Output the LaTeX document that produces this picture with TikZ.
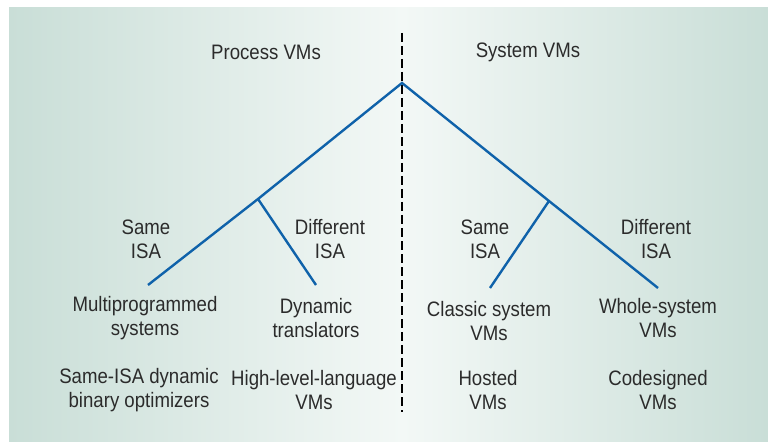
\documentclass[tikz,border=0pt]{standalone}
\usepackage{fontspec}
\setmainfont{Liberation Sans}[FakeStretch=0.89]
\definecolor{edgeteal}{HTML}{C9DED7}
\definecolor{midwhite}{HTML}{F3F8F6}
\definecolor{branchblue}{HTML}{0F62AA}
\definecolor{txtgray}{HTML}{2B2B2B}
\tikzset{
  lbl/.style={font=\fontsize{21}{24}\selectfont, text=txtgray, align=center, inner sep=0pt},
  branch/.style={draw=branchblue, line width=2.4pt},
  divider/.style={draw=black, line width=1.1pt, dash pattern=on 9bp off 4bp}
}
\begin{document}
\begin{tikzpicture}[x=1bp,y=-1bp]
\useasboundingbox (0,0) rectangle (768,447);
\fill[white] (0,0) rectangle (768,447);
\shade[left color=edgeteal, right color=midwhite] (9,8) rectangle (402,441);
\shade[left color=midwhite, right color=edgeteal] (402,8) rectangle (768,441);

% divider
\coordinate (dtop) at (402,33);
\coordinate (dbot) at (402,412);
\draw[divider] (dtop) -- (dbot);

% tree
\coordinate (root) at (402,83);
\coordinate (jl) at (258,199);
\coordinate (jr) at (549,201);
\coordinate (ll) at (148,285);
\coordinate (lr) at (316,285);
\coordinate (rl) at (490,288);
\coordinate (rr) at (658,288);
\draw[branch] (ll) -- (jl) -- (root) -- (jr) -- (rr);
\draw[branch] (jl) -- (lr);
\draw[branch] (jr) -- (rl);

% labels
\node[lbl] (pvm) at (266,52) {Process VMs};
\node[lbl] (svm) at (528,52) {System VMs};
\node[lbl] (lsame) at (146,239) {Same\\ISA};
\node[lbl] (ldiff) at (330,239) {Different\\ISA};
\node[lbl] (rsame) at (485,239) {Same\\ISA};
\node[lbl] (rdiff) at (656,239) {Different\\ISA};
\node[lbl] (multi) at (145,318) {Multiprogrammed\\systems};
\node[lbl] (dyn) at (316,318) {Dynamic\\translators};
\node[lbl] (classic) at (489,321) {Classic system\\VMs};
\node[lbl] (whole) at (658,318) {Whole-system\\VMs};
\node[lbl] (sameisa) at (139,390) {Same-ISA dynamic\\binary optimizers};
\node[lbl] (hll) at (314,390) {High-level-language\\VMs};
\node[lbl] (hosted) at (488,390) {Hosted\\VMs};
\node[lbl] (codes) at (658,390) {Codesigned\\VMs};
\end{tikzpicture}
\end{document}
